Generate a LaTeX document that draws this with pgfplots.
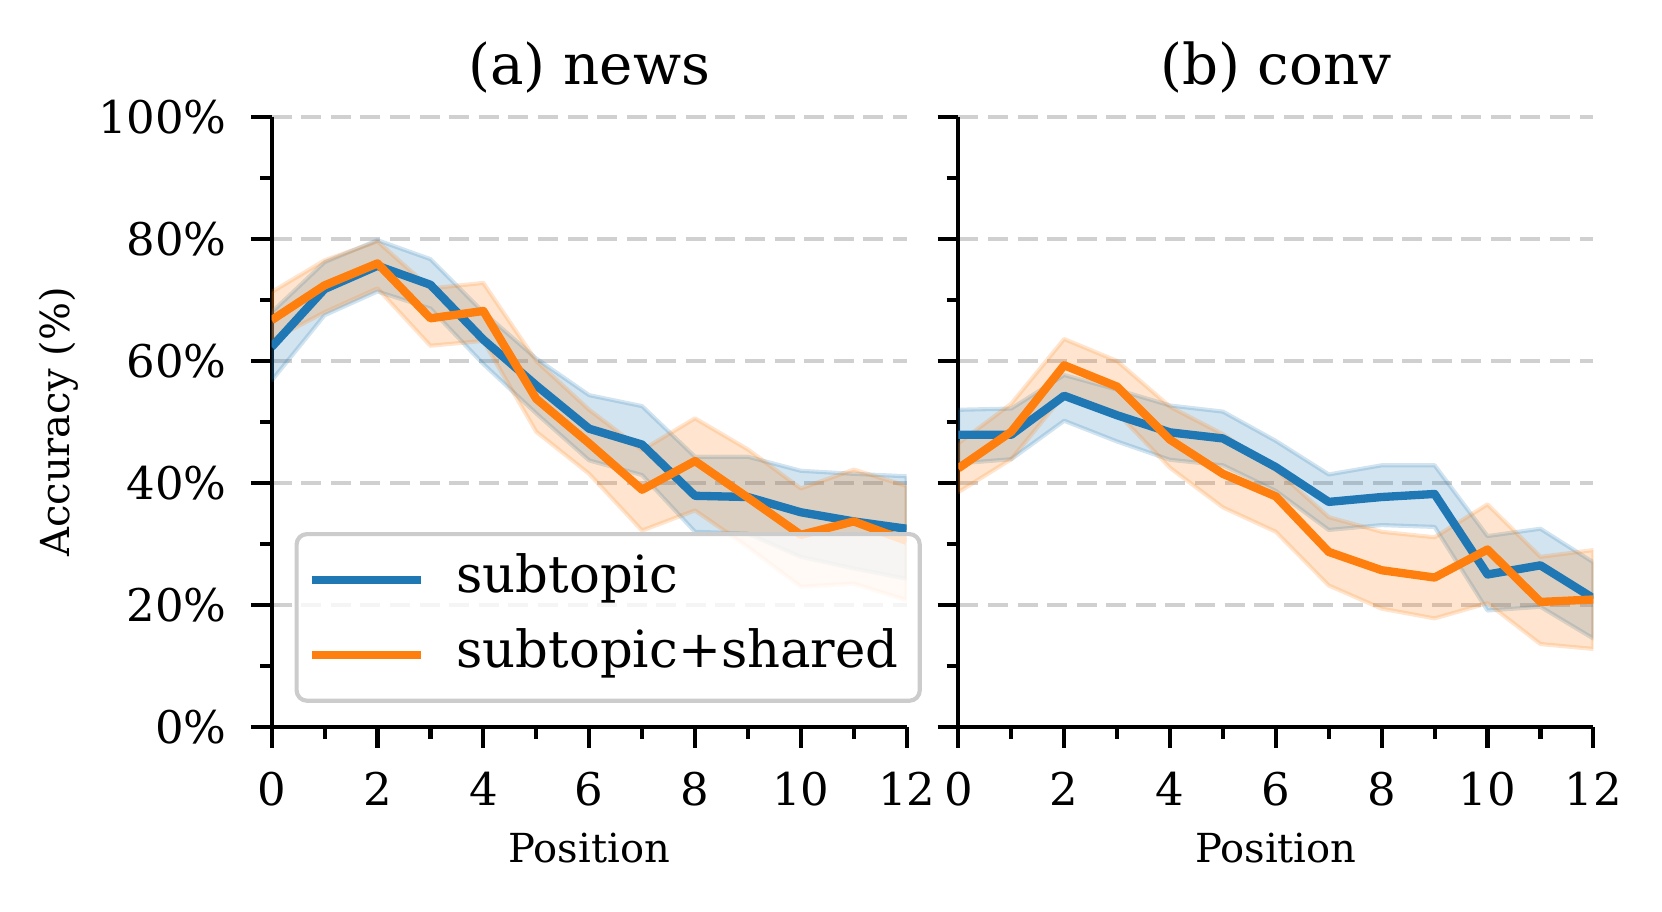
\documentclass[border=0pt]{standalone}
\usepackage{fontspec}
\setmainfont{DejaVu Serif}
\usepackage{pgfplots}
\pgfplotsset{compat=1.18}
\definecolor{tabblue}{HTML}{1F77B4}
\definecolor{taborange}{HTML}{FF7F0E}
\definecolor{gridgray}{HTML}{D0D0D0}
\definecolor{leggray}{HTML}{CCCCCC}
\pgfplotsset{
  panel/.style={
    scale only axis, width=152.4pt, height=146.4pt,
    xmin=0, xmax=12, ymin=0, ymax=100,
    axis lines*=left,
    axis line style={-, line width=1pt, black},
    xtick={0,2,4,6,8,10,12},
    xticklabels={0,2,4,6,8,10,12},
    minor xtick={1,3,5,7,9,11},
    ytick={0,20,40,60,80,100},
    minor ytick={10,30,50,70,90},
    tick align=outside,
    major tick length=5pt, minor tick length=2.8pt,
    every tick/.style={black, line width=1pt},
    ymajorgrids,
    major grid style={gridgray, line width=1pt, dash pattern=on 4.8pt off 2.3pt},
    ticklabel style={font=\fontsize{10.8}{12}\selectfont},
    xticklabel style={anchor=north, inner sep=0pt, yshift=-5.6pt},
    yticklabel style={anchor=east, inner sep=0pt, xshift=-5.6pt},
    title style={at={(0.5,1)}, anchor=base, yshift=1.8pt, font=\fontsize{13.5}{15}\selectfont},
    xlabel style={at={(axis description cs:0.5,0)}, anchor=center, yshift=-29pt, font=\fontsize{9.6}{11}\selectfont},
    ylabel style={at={(axis description cs:-0.336,0.5)}, anchor=center, font=\fontsize{9.6}{11}\selectfont},
    xlabel={Position},
    line join=round,
  },
  band/.style={fill=#1, fill opacity=0.2, draw=#1, draw opacity=0.2, line width=1pt, forget plot},
  mainline/.style={color=#1, line width=2pt},
}
\begin{document}
\begin{tikzpicture}
\useasboundingbox (0,0) rectangle (398.88pt,218.88pt);
\begin{axis}[panel, at={(65.2pt,44.4pt)}, anchor=south west,
  title={(a) news},
  ylabel={Accuracy (\%)},
  yticklabels={0\%,20\%,40\%,60\%,80\%,100\%},
  legend style={at={(0.036,0.0396)}, anchor=south west,
    draw=leggray, line width=1pt, rounded corners=2.5pt,
    fill=white, fill opacity=0.8, text opacity=1,
    inner xsep=2.6pt, inner ysep=5pt,
    font=\fontsize{12.3}{14}\selectfont,
    row sep=6pt, column sep=7.6pt,
    nodes={inner sep=0pt, text height=9pt, text depth=3pt}},
  legend cell align=left,
  legend image code/.code={\draw[#1] (0pt,0pt) -- (26.2pt,0pt);},
]
\addplot[band=tabblue] coordinates {
 (0,68)(1,76.2)(2,79.8)(3,76.7)(4,68)(5,60.4)(6,54.4)(7,52.6)(8,44.3)(9,44.3)(10,42)(11,41.5)(12,41.1)
 (12,24.3)(11,26)(10,27.9)(9,31.7)(8,32)(7,41.3)(6,43.7)(5,51.4)(4,59.5)(3,68.6)(2,71.4)(1,67.5)(0,56.8)} -- cycle;
\addplot[band=taborange] coordinates {
 (0,71.3)(1,76.5)(2,79.6)(3,71.9)(4,72.8)(5,60)(6,52)(7,45.4)(8,50.6)(9,45.5)(10,39.1)(11,42.2)(12,39.5)
 (12,20.8)(11,23.5)(10,23)(9,29.5)(8,35.5)(7,32.2)(6,41.5)(5,48.4)(4,63.3)(3,62.5)(2,71.9)(1,68)(0,63.4)} -- cycle;
\addplot[mainline=tabblue] coordinates {
 (0,62.3)(1,71.8)(2,75.6)(3,72.5)(4,63.5)(5,56)(6,48.9)(7,46.3)(8,37.9)(9,37.7)(10,35.2)(11,33.7)(12,32.5)};
\addlegendentry{subtopic}
\addplot[mainline=taborange] coordinates {
 (0,66.7)(1,72.4)(2,76)(3,67)(4,68.2)(5,53.8)(6,46.5)(7,38.9)(8,43.6)(9,37.6)(10,31.5)(11,33.7)(12,30.5)};
\addlegendentry{subtopic+shared\hspace*{2.5pt}}
\end{axis}
\begin{axis}[panel, at={(230pt,44.4pt)}, anchor=south west,
  title={(b) conv},
  yticklabels={},
]
\addplot[band=tabblue] coordinates {
 (0,52)(1,52.2)(2,57.7)(3,55.3)(4,52.7)(5,51.7)(6,46.9)(7,41.4)(8,42.9)(9,42.9)(10,31.3)(11,32.5)(12,27)
 (12,14.5)(11,19.7)(10,19.1)(9,32.8)(8,33.1)(7,32.3)(6,38.7)(5,42.9)(4,43.8)(3,46.8)(2,50.2)(1,43.9)(0,43.2)} -- cycle;
\addplot[band=taborange] coordinates {
 (0,46.5)(1,53)(2,63.6)(3,60)(4,52.5)(5,48)(6,42.2)(7,34.4)(8,32)(9,31.1)(10,36.5)(11,27.9)(12,29)
 (12,12.8)(11,13.6)(10,20.3)(9,17.8)(8,19.4)(7,23.2)(6,32)(5,36)(4,42.5)(3,51.5)(2,54.5)(1,43.9)(0,38.5)} -- cycle;
\addplot[mainline=tabblue] coordinates {
 (0,47.9)(1,47.9)(2,54.3)(3,51.1)(4,48.3)(5,47.3)(6,42.6)(7,36.9)(8,37.7)(9,38.2)(10,25)(11,26.5)(12,21.1)};
\addplot[mainline=taborange] coordinates {
 (0,42.4)(1,48.4)(2,59.3)(3,55.8)(4,47.1)(5,41.5)(6,37.8)(7,28.7)(8,25.7)(9,24.5)(10,29.1)(11,20.5)(12,20.9)};
\end{axis}
\end{tikzpicture}
\end{document}
